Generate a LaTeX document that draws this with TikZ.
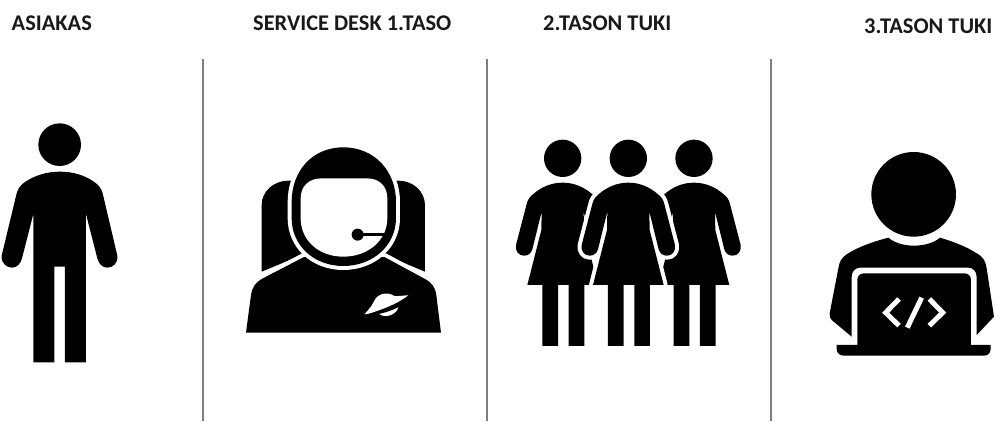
\documentclass[tikz,border=0pt]{standalone}
\usepackage{fontspec}
\setmainfont{Carlito}
\tikzset{
  title/.style={anchor=base west,inner sep=0pt,font=\fontsize{22.4}{24}\selectfont\bfseries,text=black!90},
  divider/.style={draw=black!50,line width=1.4pt},
  ink/.style={fill=black,draw=none},
  halo/.style={preaction={draw=white,line width=8pt,line join=round},fill=black,draw=none},
  codestroke/.style={draw=white,line width=5pt},
  zm/.style={x=0.3333pt,y=-0.3333pt}
}
\def\womanbody{(0,158) .. controls (-35,158) and (-65,172) .. (-88,192) .. controls (-98,200) and (-105,208) .. (-108,222)
  -- (-140,345) .. controls (-143,362) and (-133,377) .. (-116,377) .. controls (-103,377) and (-95,370) .. (-91,358)
  -- (-63,245) -- (-64,300) -- (-106,465) -- (-61,465) -- (-61,648) -- (-14,648) -- (-14,465) -- (18,465) -- (18,648) -- (65,648) -- (65,465) -- (106,465)
  -- (64,300) -- (63,245) -- (91,358) .. controls (95,370) and (103,377) .. (116,377) .. controls (133,377) and (143,362) .. (140,345)
  -- (108,222) .. controls (105,208) and (98,200) .. (88,192) .. controls (65,172) and (35,158) .. (0,158) -- cycle}
\begin{document}
\begin{tikzpicture}[x=1pt,y=-1pt]
\useasboundingbox (0,0) rectangle (995,421);
\fill[white] (0,0) rectangle (995,421);
\node[title] (t1) at (11.5,30.5) {ASIAKAS};
\node[title] (t2) at (253,30.5) {SERVICE DESK 1.TASO};
\node[title] (t3) at (543,30.5) {2.TASON TUKI};
\node[title] (t4) at (864,33.5) {3.TASON TUKI};
\draw[divider] (203,59) -- (203,421);
\draw[divider] (487,59) -- (487,421);
\draw[divider] (771,59) -- (771,421);
% customer
\begin{scope}[shift={(0,110)},zm]
\fill[ink] (179,104) circle[radius=64];
\fill[ink] (180,185) .. controls (140,185) and (105,196) .. (75,216) .. controls (62,225) and (54,235) .. (50,250)
 -- (5,437) .. controls (3,460) and (20,473) .. (36,473) .. controls (52,473) and (62,460) .. (66,445)
 -- (100,312) -- (100,757) -- (163,757) -- (163,470) -- (195,470) -- (195,757) -- (258,757) -- (258,312)
 -- (292,445) .. controls (296,460) and (306,473) .. (322,473) .. controls (338,473) and (355,460) .. (352,437)
 -- (308,250) .. controls (304,235) and (296,225) .. (283,216) .. controls (255,196) and (220,185) .. (180,185) -- cycle;
\end{scope}
% astronaut
\begin{scope}[shift={(235,140)},zm]
\fill[ink] (80,395) -- (80,195) .. controls (80,155) and (115,122) .. (160,122) -- (200,122) -- (200,345) -- cycle;
\fill[ink] (570,395) -- (570,195) .. controls (570,155) and (535,122) .. (490,122) -- (450,122) -- (450,345) -- cycle;
\path[halo] (33,578) -- (48,465) .. controls (52,440) and (62,428) .. (80,417) -- (205,352) -- (325,330) -- (450,352) -- (570,417) .. controls (590,428) and (600,440) .. (604,465) -- (618,578) -- cycle;
\path[halo] (325,22) .. controls (420,22) and (483,95) .. (483,185) -- (483,235) .. controls (483,315) and (415,378) .. (325,378) .. controls (235,378) and (170,315) .. (170,235) -- (170,185) .. controls (170,95) and (230,22) .. (325,22) -- cycle;
\fill[white] (260,115) -- (395,115) .. controls (435,115) and (457,140) .. (457,175) -- (457,235) .. controls (457,300) and (400,350) .. (325,350) .. controls (250,350) and (197,300) .. (197,235) -- (197,175) .. controls (197,140) and (220,115) .. (260,115) -- cycle;
\fill[ink] (368,284) circle[radius=18];
\draw[black,line width=3.5pt] (368,284) -- (450,284);
\fill[white] (388,523) .. controls (405,505) and (412,495) .. (418,482) .. controls (428,462) and (455,453) .. (478,468) .. controls (492,469) and (508,466) .. (520,466) .. controls (500,482) and (470,497) .. (440,508) .. controls (420,515) and (400,523) .. (388,523) -- cycle;
\fill[white] (432,522) .. controls (452,518) and (475,510) .. (490,502) .. controls (487,520) and (455,538) .. (432,522) -- cycle;
\end{scope}
% three women
\begin{scope}[shift={(510,130)},zm]
\fill[ink] (158,85) circle[radius=56];
\fill[ink] (355,85) circle[radius=56];
\fill[ink] (552,85) circle[radius=56];
\begin{scope}[shift={(158,0)}]
\fill[ink] \womanbody;
\end{scope}
\begin{scope}[shift={(552,0)}]
\fill[ink] \womanbody;
\end{scope}
\begin{scope}[shift={(355,0)}]
\path[halo] \womanbody;
\end{scope}
\end{scope}
% developer
\begin{scope}[shift={(820,145)},zm]
\fill[ink] (281,148) circle[radius=127];
\fill[ink] (205,278) .. controls (225,295) and (255,302) .. (281,302) .. controls (310,302) and (340,295) .. (360,278)
 .. controls (400,290) and (440,305) .. (470,325) .. controls (490,335) and (497,350) .. (500,370)
 -- (522,515) -- (470,570) -- (470,395) .. controls (470,378) and (458,368) .. (445,368) -- (120,368) .. controls (107,368) and (95,378) .. (95,395)
 -- (95,575) -- (35,525) .. controls (30,520) and (28,515) .. (29,505) -- (55,370) .. controls (58,350) and (65,338) .. (80,328) .. controls (115,305) and (160,290) .. (205,278) -- cycle;
\fill[ink] (112,600) -- (112,405) .. controls (112,393) and (120,385) .. (132,385) -- (433,385) .. controls (445,385) and (453,393) .. (453,405) -- (453,600) -- (512,600) -- (512,612) .. controls (512,625) and (503,632) .. (492,632) -- (72,632) .. controls (60,632) and (50,625) .. (50,612) -- (50,600) -- cycle;
\draw[codestroke] (237,462) -- (197,503) -- (237,542);
\draw[codestroke] (305,458) -- (262,548);
\draw[codestroke] (328,462) -- (368,503) -- (328,542);
\end{scope}
\end{tikzpicture}
\end{document}
